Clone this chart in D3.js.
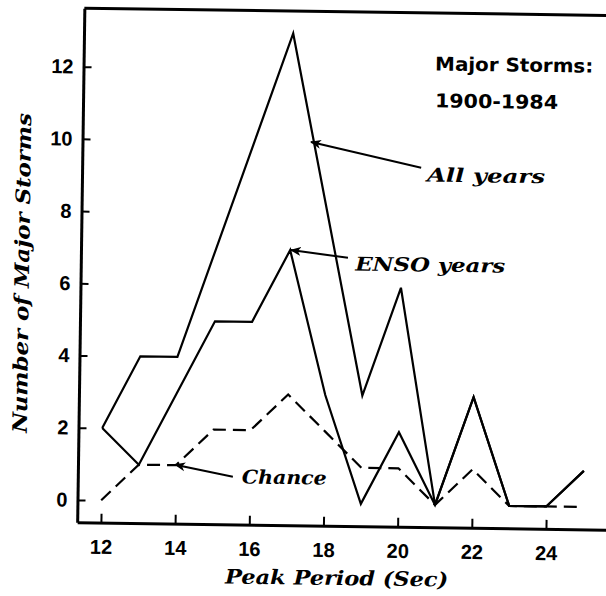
<!DOCTYPE html>
<html><head><meta charset="utf-8">
<script src="https://cdn.jsdelivr.net/npm/d3@7/dist/d3.min.js"></script>
<style>body{margin:0;background:#fff}svg{display:block;background:#fff}</style>
</head><body>
<svg id="chart" width="606" height="596"></svg>
<script>
// ---- data ----
const periods   = [12,13,14,15,16,17,18,19,20,21,22,23,24,25];
const allYears  = [2, 4, 4, 7,10,13, 8, 3, 6, 0, 3, 0, 0, 1];
const ensoYears = [2, 1, 3, 5, 5, 7, 3, 0, 2, 0, 3, 0, 0, 1];
const chance    = [0, 1, 1, 2, 2, 3, 2, 1, 1, 0, 1, 0, 0, 0];
const xTicks = [12,14,16,18,20,22,24];
const yTicks = [0,2,4,6,8,10,12];
const xTitle = "Peak Period (Sec)";
const yTitle = "Number of Major Storms";
const titleLines = ["Major Storms:", "1900-1984"];
const seriesNames = ["All years", "ENSO years", "Chance"];

// ---- layout ----
const svg = d3.select("#chart");
const g = svg.append("g").attr("transform", "rotate(0.8 300 300)");
const x = d3.scaleLinear().domain([11.36, 26.45]).range([80.3, 640]);
const y = d3.scaleLinear().domain([-0.62, 13.62]).range([525.4, 11.2]);

const sansBold = "'Liberation Sans', Arial, sans-serif";
const sansWide = "'DejaVu Sans', sans-serif";
const serifIt = "'DejaVu Serif', 'Liberation Serif', serif";

// arrow marker (tip at +x, aligned with line direction)
svg.append("defs").append("marker")
  .attr("id","ah").attr("markerUnits","userSpaceOnUse")
  .attr("markerWidth",12).attr("markerHeight",10)
  .attr("refX",10).attr("refY",5).attr("orient","auto")
  .append("path").attr("d","M11,5 L0,0.5 L3,5 L0,9.5 Z").attr("fill","#000");

// top border
g.append("line").attr("x1", x.range()[0]).attr("x2", x.range()[1])
  .attr("y1", y.range()[1]).attr("y2", y.range()[1])
  .attr("stroke","#000").attr("stroke-width",3);

// axes
const xAxis = d3.axisBottom(x).tickValues(xTicks).tickSize(-9).tickSizeOuter(0).tickPadding(17);
const yAxis = d3.axisLeft(y).tickValues(yTicks).tickSize(-8).tickSizeOuter(0).tickPadding(10);
const gx = g.append("g").attr("transform", `translate(0,${y.range()[0]})`).call(xAxis);
const gy = g.append("g").attr("transform", `translate(${x.range()[0]},0)`).call(yAxis);
[gx, gy].forEach(a => {
  a.select(".domain").attr("stroke","#000").attr("stroke-width",3);
  a.selectAll(".tick line").attr("stroke","#000").attr("stroke-width",2);
  a.selectAll(".tick text").attr("fill","#000")
    .style("font-family", sansBold).style("font-weight","bold").style("font-size","20px");
});

// series
const line = d3.line().x((d,i)=>x(periods[i])).y(d=>y(d));
const series = [
  {v: allYears, dash: null},
  {v: ensoYears, dash: null},
  {v: chance, dash: "13,7"}
];
series.forEach(s => {
  g.append("path").datum(s.v).attr("d", line)
    .attr("fill","none").attr("stroke","#000").attr("stroke-width",2.2)
    .attr("stroke-linejoin","miter").attr("stroke-dasharray", s.dash);
});

// annotations (data-space anchors)
const notes = [
  {text: seriesNames[0], tip:[17.52,10.0], tail:[20.5,9.33], at:[20.66,8.95], len:118},
  {text: seriesNames[1], tip:[17.02,7.0], tail:[18.56,6.81], at:[18.76,6.46], len:150},
  {text: seriesNames[2], tip:[13.98,1.01], tail:[15.54,0.70], at:[15.78,0.52], len:85}
];
notes.forEach(n => {
  g.append("line")
    .attr("x1", x(n.tail[0])).attr("y1", y(n.tail[1]))
    .attr("x2", x(n.tip[0])).attr("y2", y(n.tip[1]))
    .attr("stroke","#000").attr("stroke-width",2).attr("marker-end","url(#ah)");
  g.append("text").attr("x", x(n.at[0])).attr("y", y(n.at[1]))
    .attr("textLength", n.len).attr("lengthAdjust","spacingAndGlyphs")
    .style("font-family", serifIt).style("font-style","italic").style("font-weight","bold")
    .style("font-size","19px").text(n.text);
});

// title block
const tl = [[20.84,12.03,158],[20.85,11.01,123]];
titleLines.forEach((t,i)=>{
  g.append("text").attr("x", x(tl[i][0])).attr("y", y(tl[i][1]))
    .attr("textLength", tl[i][2]).attr("lengthAdjust","spacingAndGlyphs")
    .style("font-family", sansWide).style("font-weight","bold").style("font-size","19px")
    .text(t);
});

// axis titles
g.append("text").attr("x", 340.5).attr("y", 584.5).attr("text-anchor","middle")
  .attr("textLength", 223).attr("lengthAdjust","spacingAndGlyphs")
  .style("font-family", serifIt).style("font-style","italic").style("font-weight","bold")
  .style("font-size","20px").text(xTitle);
g.append("text").attr("transform","translate(28.6,276.9) rotate(-90)").attr("text-anchor","middle")
  .attr("textLength", 320).attr("lengthAdjust","spacingAndGlyphs")
  .style("font-family", serifIt).style("font-style","italic").style("font-weight","bold")
  .style("font-size","20px").text(yTitle);
</script>
</body></html>
